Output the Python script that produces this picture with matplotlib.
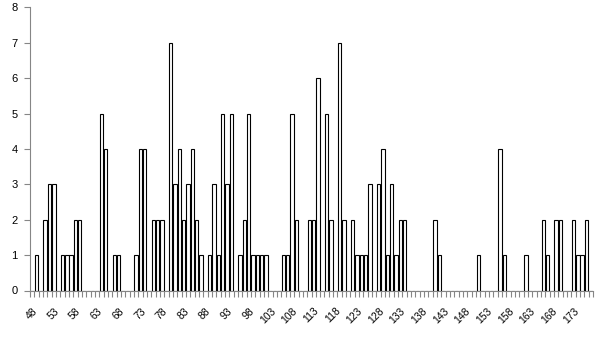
import numpy as np
import matplotlib
matplotlib.use("Agg")
import matplotlib.pyplot as plt

# categories 48..177, one count per category
categories = list(range(48, 178))
counts = [
    0, 1, 0, 2, 3, 3, 0, 1, 1, 1,   # 48-57
    2, 2, 0, 0, 0, 0, 5, 4, 0, 1,   # 58-67
    1, 0, 0, 0, 1, 4, 4, 0, 2, 2,   # 68-77
    2, 0, 7, 3, 4, 2, 3, 4, 2, 1,   # 78-87
    0, 1, 3, 1, 5, 3, 5, 0, 1, 2,   # 88-97
    5, 1, 1, 1, 1, 0, 0, 0, 1, 1,   # 98-107
    5, 2, 0, 0, 2, 2, 6, 0, 5, 2,   # 108-117
    0, 7, 2, 0, 2, 1, 1, 1, 3, 0,   # 118-127
    3, 4, 1, 3, 1, 2, 2, 0, 0, 0,   # 128-137
    0, 0, 0, 2, 1, 0, 0, 0, 0, 0,   # 138-147
    0, 0, 0, 1, 0, 0, 0, 0, 4, 1,   # 148-157
    0, 0, 0, 0, 1, 0, 0, 0, 2, 1,   # 158-167
    0, 2, 2, 0, 0, 2, 1, 1, 2, 0,   # 168-177
]
tick_labels = [str(c) for c in categories[::5]]

plt.rcParams['font.family'] = ['Liberation Sans', 'DejaVu Sans']

fig = plt.figure(figsize=(6.05, 3.4), dpi=100)
ax = fig.add_axes([30 / 605, 49.5 / 340, 563 / 605, 283.2 / 340])

ax.bar(categories, counts, width=0.78, color='white', edgecolor='black', linewidth=0.8)

ax.set_xlim(categories[0] - 0.5, categories[-1] + 0.5)
ax.set_ylim(0, 8)

axis_col = '#868686'
for s in ['top', 'right']:
    ax.spines[s].set_visible(False)
for s in ['left', 'bottom']:
    ax.spines[s].set_color(axis_col)
    ax.spines[s].set_linewidth(0.8)

ax.set_yticks(range(0, 9))
ax.tick_params(axis='y', length=4, width=0.8, color=axis_col, labelsize=8, pad=5)

# labels every 5th category, tick marks between categories
ax.set_xticks(categories[::5])
ax.set_xticklabels(tick_labels, rotation=45, ha='right', rotation_mode='anchor')
ax.tick_params(axis='x', which='major', length=0, labelsize=7.5, pad=11)
ax.set_xticks(np.arange(categories[0] - 0.5, categories[-1] + 1), minor=True)
ax.tick_params(axis='x', which='minor', length=4, width=0.8, color=axis_col)

fig.savefig('out.png', dpi=100)
